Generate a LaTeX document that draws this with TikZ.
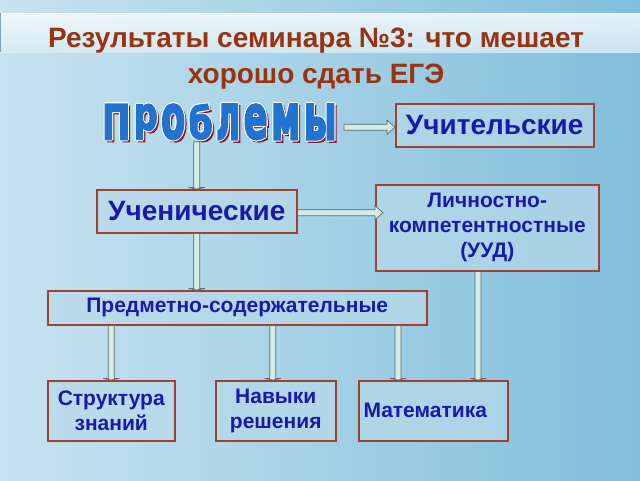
\documentclass[tikz,border=0pt]{standalone}
\usepackage{fontspec}
\setmainfont{Liberation Sans}
\newfontfamily\artfont{DejaVu Sans Bold}[FakeBold=4]
\usetikzlibrary{calc}
\definecolor{bgL}{HTML}{C8E3F0}
\definecolor{bgR}{HTML}{80BEDB}
\definecolor{titlec}{HTML}{983412}
\definecolor{txtb}{HTML}{1A1AAA}
\definecolor{brd}{HTML}{A0402E}
\definecolor{boxf}{HTML}{B8D9E9}
\definecolor{arrf}{HTML}{D2ECEA}
\definecolor{arrd}{HTML}{5A6A6A}
\definecolor{wblue}{HTML}{2272D0}
\definecolor{wshadow}{HTML}{8A1A2A}
\newcommand\wordart[1]{%
  \makebox[0pt][l]{\hspace{2.2pt}\raisebox{-2.2pt}{\color{wshadow}#1}}%
  \makebox[0pt][l]{\hspace{-1.1pt}\color{white}#1}%
  \makebox[0pt][l]{\hspace{1.1pt}\color{white}#1}%
  \makebox[0pt][l]{\raisebox{1.1pt}{\color{white}#1}}%
  \makebox[0pt][l]{\raisebox{-1.1pt}{\color{white}#1}}%
  {\color{wblue}#1}}
\newcommand\artletter[2]{\wordart{\raisebox{\depth}{\resizebox*{#1}{35pt}{#2}}}\hspace{3.5pt}}
\newcommand\harr[2]{%
  \path let \p1=(#1), \p2=(#2) in
    [arrsty] (\x1,\y1+3pt) -- (\x2-8pt,\y1+3pt) -- (\x2-8pt,\y1+7pt) -- (\x2,\y1)
    -- (\x2-8pt,\y1-7pt) -- (\x2-8pt,\y1-3pt) -- (\x1,\y1-3pt) -- cycle;}
\newcommand\varr[2]{%
  \path let \p1=(#1), \p2=(#2) in
    [arrsty] (\x1-3pt,\y1) -- (\x1-3pt,\y2+1.5pt) -- (\x1-8pt,\y2+1.5pt) -- (\x1,\y2)
    -- (\x1+8pt,\y2+1.5pt) -- (\x1+3pt,\y2+1.5pt) -- (\x1+3pt,\y1) -- cycle;}
\begin{document}
\begin{tikzpicture}[x=1pt,y=-1pt,
  box/.style={draw=brd, line width=1.5pt, fill=boxf, fill opacity=0.7, text opacity=1,
    text=txtb, font=\bfseries, anchor=north west, inner sep=0pt, align=center},
  bigtxt/.style={font=\bfseries\fontsize{28}{32}\selectfont},
  smalltxt/.style={font=\bfseries\fontsize{21}{25}\selectfont},
  arrsty/.style={fill=arrf, draw=arrd, line width=0.7pt},
  titletxt/.style={font=\bfseries\fontsize{28}{32}\selectfont, text=titlec, anchor=base, inner sep=0pt}]
\useasboundingbox (0,0) rectangle (640,480);
\shade[left color=bgL, right color=bgR] (0,0) rectangle (640,480);
\shade[top color=white!85!bgL, bottom color=bgL!70!white, opacity=0.85] (0,13) rectangle (640,52);
\draw[white, line width=1pt] (0,13.5) -- (640,13.5);
\draw[bgR!60!gray, line width=0.6pt] (0.5,13) -- (0.5,52);
\node[titletxt] (title1) at (316,47) {Результаты семинара №3: что мешает};
\node[titletxt] (title2) at (316,83) {хорошо сдать ЕГЭ};

\node[anchor=north west, inner sep=0pt] (problems) at (102,103)
  {\artfont\fontsize{30}{34}\selectfont
   \artletter{28pt}{П}\artletter{24pt}{р}\artletter{24pt}{о}\artletter{24pt}{б}%
   \artletter{24pt}{л}\artletter{24pt}{е}\artletter{29pt}{м}\artletter{33pt}{ы}};

\node[box, bigtxt, minimum width=198pt, minimum height=43pt] (uchit) at (395,103) {Учительские};
\node[box, bigtxt, minimum width=200pt, minimum height=43pt] (uchen) at (96,189) {Ученические};
\node[box, smalltxt, minimum width=223pt, minimum height=86pt] (lich) at (375,184)
  {Личностно-\\компетентностные\\(УУД)};
\node[box, smalltxt, minimum width=379pt, minimum height=34pt] (pred) at (47,290) {Предметно-содержательные};
\node[box, smalltxt, minimum width=127pt, minimum height=60pt] (strukt) at (47,380) {Структура\\знаний};
\node[box, smalltxt, minimum width=120pt, minimum height=60pt] (navyki) at (215,380) {Навыки\\решения};
\node[box, smalltxt, minimum width=149pt, minimum height=60pt] (mat) at (358,380) {Математика\hspace*{16pt}};

\harr{$(problems.east |- uchit.west)+(7,2)$}{$(uchit.west)+(0,2)$}
\harr{$(uchen.east)+(0,1.5)$}{$(lich.west |- uchen.east)+(8,1.5)$}
\varr{problems.south -| uchen.north}{uchen.north}
\varr{uchen.south}{pred.north -| uchen.south}
\varr{pred.south -| strukt.north}{strukt.north}
\varr{$(pred.south -| navyki.north)+(-3,0)$}{$(navyki.north)+(-3,0)$}
\varr{$(pred.south -| mat.north west)+(40,0)$}{$(mat.north west)+(40,0)$}
\varr{$(lich.south -| mat.north west)+(120,0)$}{$(mat.north west)+(120,0)$}
\end{tikzpicture}
\end{document}
